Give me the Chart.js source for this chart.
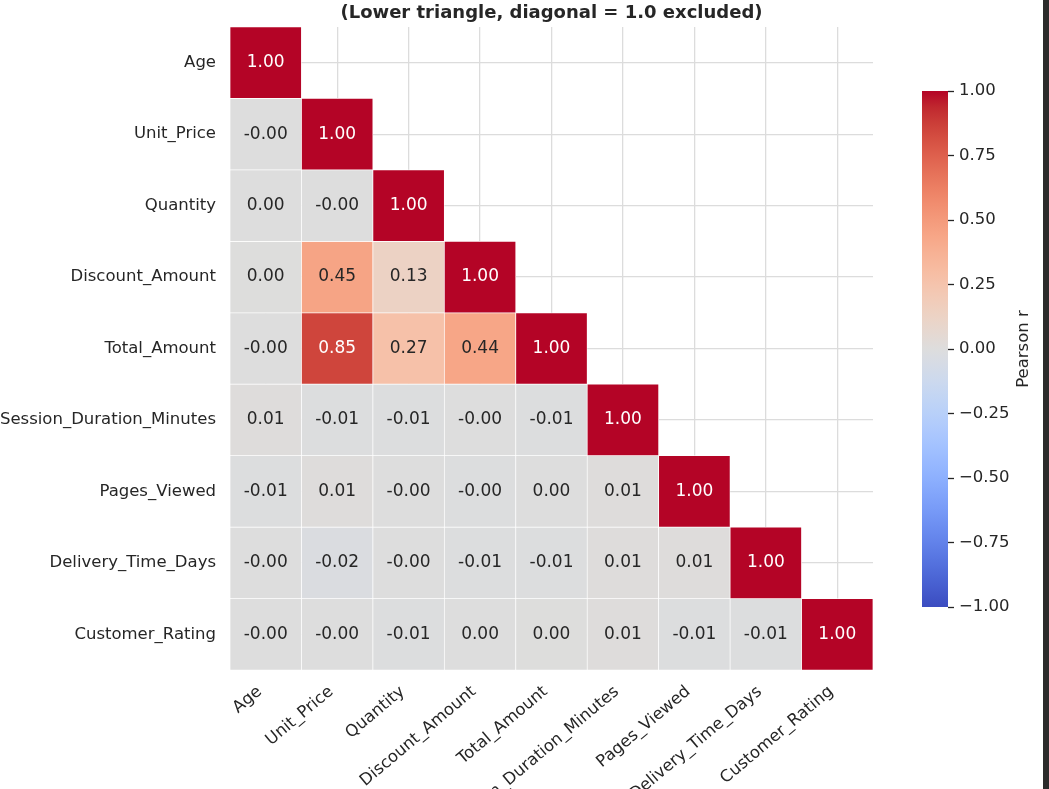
<!DOCTYPE html>
<html>
<head>
<meta charset="utf-8">
<script src="https://cdn.jsdelivr.net/npm/chart.js@4.4.1/dist/chart.umd.min.js"></script>
<style>
  html, body { margin: 0; padding: 0; background: #fff; }
  #wrap { position: relative; width: 1049px; height: 789px; overflow: hidden; }
  #main { position: absolute; left: 0; top: 0; width: 1049px; height: 789px; }
  #cbar { position: absolute; left: 922px; top: 70px; width: 121px; height: 555px; }
  #edge { position: absolute; left: 1043px; top: 0; width: 6px; height: 789px; background: #2b2b2b; }
</style>
</head>
<body>
<div id="wrap">
  <div id="main"><canvas id="heat"></canvas></div>
  <div id="cbar"><canvas id="scale"></canvas></div>
  <div id="edge"></div>
</div>
<script>
// column / row names
var names = ["Age", "Unit_Price", "Quantity", "Discount_Amount", "Total_Amount",
  "Session_Duration_Minutes", "Pages_Viewed", "Delivery_Time_Days", "Customer_Rating"];

// lower triangle rows (Pearson r)
var rowAge      = [1.00];
var rowPrice    = [-0.002, 1.00];
var rowQty      = [0.002, -0.001, 1.00];
var rowDiscount = [0.003, 0.45, 0.13, 1.00];
var rowTotal    = [-0.002, 0.85, 0.27, 0.44, 1.00];
var rowSession  = [0.01, -0.01, -0.01, -0.003, -0.01, 1.00];
var rowPages    = [-0.01, 0.01, -0.002, -0.004, 0.002, 0.01, 1.00];
var rowDelivery = [-0.003, -0.02, -0.002, -0.01, -0.01, 0.01, 0.01, 1.00];
var rowRating   = [-0.001, -0.003, -0.01, 0.001, 0.003, 0.01, -0.01, -0.01, 1.00];

var matrix = [rowAge, rowPrice, rowQty, rowDiscount, rowTotal, rowSession, rowPages, rowDelivery, rowRating];

var colorbarTicks = [-1, -0.75, -0.5, -0.25, 0, 0.25, 0.5, 0.75, 1];

var titleText = "(Lower triangle, diagonal = 1.0 excluded)";
var textDark = "#262626";

// matplotlib coolwarm, 33 samples
var coolwarm = [
  [59,76,192],[68,90,204],[77,104,215],[87,117,225],[98,130,234],[108,142,241],
  [119,154,247],[130,165,251],[141,176,254],[152,185,255],[163,194,255],[174,201,253],
  [184,208,249],[194,213,244],[204,217,238],[213,219,230],[221,221,221],[229,216,209],
  [236,211,197],[241,204,185],[245,196,173],[247,187,160],[247,177,148],[247,166,135],
  [244,154,123],[241,141,111],[236,127,99],[229,112,88],[222,96,77],[213,80,66],
  [203,62,56],[192,40,47],[180,4,38]
];

function cmapRgb(v) {
  var t = Math.max(0, Math.min(1, (v + 1) / 2)) * (coolwarm.length - 1);
  var i = Math.min(Math.floor(t), coolwarm.length - 2);
  var f = t - i;
  var a = coolwarm[i], b = coolwarm[i + 1];
  return [0, 1, 2].map(function (k) { return Math.round(a[k] + (b[k] - a[k]) * f); });
}
function cmap(v) {
  var c = cmapRgb(v);
  return "rgb(" + c.join(",") + ")";
}
function textColor(v) {
  var c = cmapRgb(v).map(function (x) {
    x = x / 255;
    return x <= 0.03928 ? x / 12.92 : Math.pow((x + 0.055) / 1.055, 2.4);
  });
  var lum = 0.2126 * c[0] + 0.7152 * c[1] + 0.0722 * c[2];
  return lum < 0.408 ? "#ffffff" : textDark;
}

var labelFont = { family: "DejaVu Sans", size: 16.5 };

var annotate = {
  id: "annotate",
  afterDatasetsDraw: function (chart) {
    var ctx = chart.ctx;
    ctx.save();
    ctx.font = '17px "DejaVu Sans"';
    ctx.textAlign = "center";
    ctx.textBaseline = "middle";
    matrix.forEach(function (row, i) {
      var meta = chart.getDatasetMeta(i);
      row.forEach(function (v, j) {
        var el = meta.data[j];
        ctx.fillStyle = textColor(v);
        ctx.fillText(v.toFixed(2), el.x, (el.y + el.base) / 2);
      });
    });
    var area = chart.chartArea;
    ctx.font = 'bold 18px "DejaVu Sans"';
    ctx.fillStyle = textDark;
    ctx.fillText(titleText, (area.left + area.right) / 2, 13);
    ctx.restore();
  }
};

new Chart(document.getElementById("heat"), {
  type: "bar",
  data: {
    labels: names,
    datasets: matrix.map(function (row, i) {
      return {
        data: names.map(function (_, j) { return j < row.length ? [i - 0.5, i + 0.5] : null; }),
        backgroundColor: names.map(function (_, j) { return j < row.length ? cmap(row[j]) : "transparent"; }),
        borderColor: "#ffffff",
        borderWidth: 0.7,
        borderSkipped: false,
        barPercentage: 1,
        categoryPercentage: 1,
        grouped: false
      };
    })
  },
  options: {
    responsive: true,
    maintainAspectRatio: false,
    animation: false,
    layout: { padding: { top: 27, right: 176, left: 0, bottom: 0 } },
    plugins: { legend: { display: false }, tooltip: { enabled: false }, title: { display: false } },
    scales: {
      x: {
        type: "category",
        grid: { offset: false, color: "#dcdcdc", lineWidth: 1.3, drawTicks: false },
        border: { display: false },
        ticks: { color: textDark, font: labelFont, maxRotation: 40, minRotation: 40, padding: 12,
          labelOffset: -6, autoSkip: false },
        afterFit: function (s) { s.height = 119; }
      },
      y: {
        type: "linear",
        min: -0.5,
        max: 8.5,
        reverse: true,
        grid: { color: "#dcdcdc", lineWidth: 1.3, drawTicks: false },
        border: { display: false },
        afterBuildTicks: function (s) { s.ticks = names.map(function (_, i) { return { value: i }; }); },
        ticks: { color: textDark, font: labelFont, padding: 14, autoSkip: false,
          callback: function (v) { return names[v]; } },
        afterFit: function (s) { s.width = 230; }
      }
    }
  },
  plugins: [annotate]
});

// colour bar
var cbarTitle = {
  id: "cbarTitle",
  afterDraw: function (chart) {
    var ctx = chart.ctx, area = chart.chartArea;
    ctx.save();
    ctx.translate(102, (area.top + area.bottom) / 2);
    ctx.rotate(-Math.PI / 2);
    ctx.font = '16.5px "DejaVu Sans"';
    ctx.fillStyle = textDark;
    ctx.textAlign = "center";
    ctx.textBaseline = "middle";
    ctx.fillText("Pearson r", 0, 0);
    ctx.restore();
  }
};

function barGradient(chart) {
  var area = chart.chartArea;
  if (!area || !isFinite(area.top) || !isFinite(area.bottom) || area.bottom <= area.top) return cmap(0);
  var g = chart.ctx.createLinearGradient(0, area.bottom, 0, area.top);
  coolwarm.forEach(function (c, k) { g.addColorStop(k / (coolwarm.length - 1), "rgb(" + c.join(",") + ")"); });
  return g;
}

new Chart(document.getElementById("scale"), {
  type: "bar",
  data: {
    labels: ["r"],
    datasets: [{
      data: [[-1, 1]],
      backgroundColor: function (c) { return barGradient(c.chart); },
      borderWidth: 0,
      barPercentage: 1,
      categoryPercentage: 1
    }]
  },
  options: {
    responsive: true,
    maintainAspectRatio: false,
    animation: false,
    layout: { padding: { top: 21, bottom: 18, left: 0, right: 0 } },
    plugins: { legend: { display: false }, tooltip: { enabled: false } },
    scales: {
      x: { display: false },
      y: {
        position: "right",
        min: -1,
        max: 1,
        afterBuildTicks: function (s) { s.ticks = colorbarTicks.map(function (v) { return { value: v }; }); },
        ticks: { color: textDark, font: labelFont, padding: 5,
          callback: function (v) { return (v < 0 ? "\u2212" : "") + Math.abs(v).toFixed(2); } },
        grid: { drawOnChartArea: false, tickLength: 6, tickColor: textDark, tickWidth: 1.3 },
        border: { display: false },
        afterFit: function (s) { s.width = 95; }
      }
    }
  },
  plugins: [cbarTitle]
});
</script>
</body>
</html>
